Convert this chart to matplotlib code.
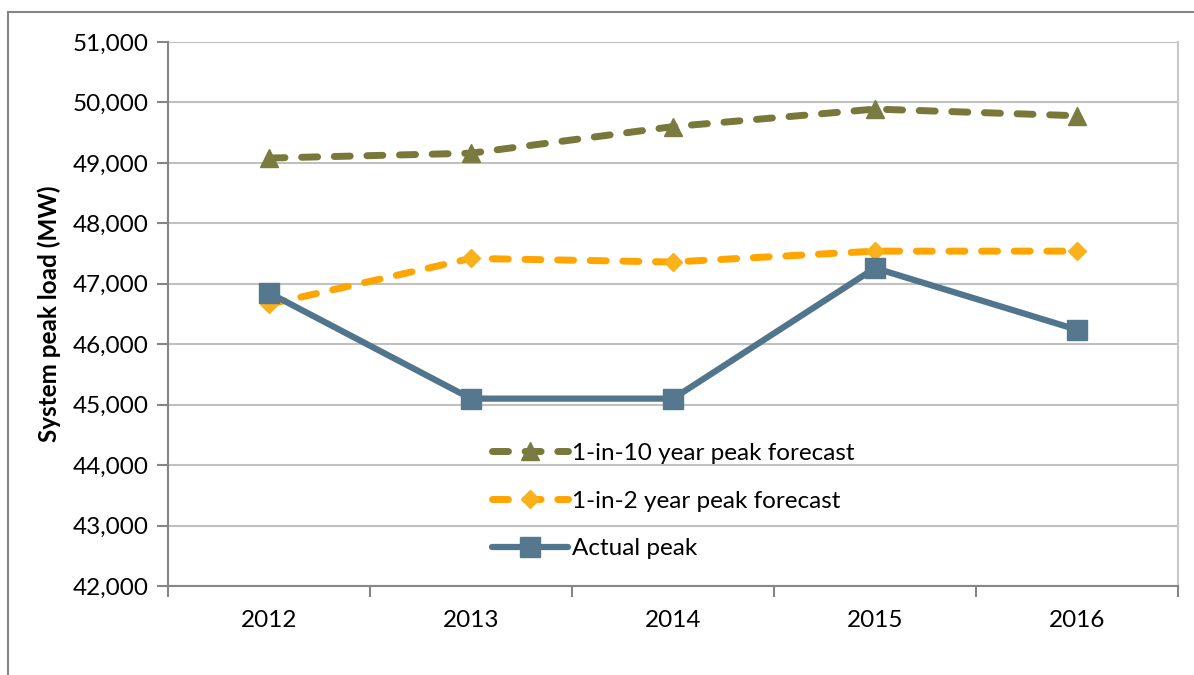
import matplotlib.pyplot as plt
from matplotlib.lines import Line2D
from matplotlib.ticker import FuncFormatter, MultipleLocator, FixedLocator

plt.rcParams['font.family'] = ['Lato', 'DejaVu Sans']

years = ['2012', '2013', '2014', '2015', '2016']
peak_1in10 = [49080, 49160, 49600, 49890, 49780]
peak_1in2 = [46660, 47420, 47360, 47540, 47540]
actual_peak = [46850, 45100, 45100, 47260, 46240]

olive = '#77783A'
orange = '#FFA500'
steel = '#50758C'
fs = 17.5

fig = plt.figure(figsize=(11.94, 6.75), dpi=100)
ax = fig.add_axes([168 / 1194, 1 - 586 / 675, (1178 - 168) / 1194, (586 - 42) / 675])

x = list(range(len(years)))

l10, = ax.plot(x, peak_1in10, color=olive, lw=5, dash_capstyle='round',
               marker='^', markersize=13, markerfacecolor='#7A7B40', markeredgecolor='#7A7B40',
               label='1-in-10 year peak forecast', zorder=3)
l10.set_dashes([2.3, 2.4])
l2, = ax.plot(x, peak_1in2, color=orange, lw=5, dash_capstyle='round',
              marker='D', markersize=9, markerfacecolor='#F9B11C', markeredgecolor='#F9B11C',
              label='1-in-2 year peak forecast', zorder=3)
l2.set_dashes([2.3, 2.4])
la, = ax.plot(x, actual_peak, color=steel, lw=4.5, solid_capstyle='round',
              marker='s', markersize=14, markerfacecolor='#55788F', markeredgecolor='#55788F',
              label='Actual peak', zorder=4)

ax.set_xlim(-0.5, len(years) - 0.5)
ax.set_ylim(42000, 51000)
ax.yaxis.set_major_locator(MultipleLocator(1000))
ax.yaxis.set_major_formatter(FuncFormatter(lambda v, p: f'{int(v):,}'))
ax.grid(axis='y', color='#C0C0C0', lw=1.5)
ax.set_axisbelow(True)

ax.set_xticks(x)
ax.set_xticklabels(years)
ax.xaxis.set_minor_locator(FixedLocator([i - 0.5 for i in range(len(years) + 1)]))
ax.tick_params(axis='x', which='major', length=0, pad=17, labelsize=fs)
ax.tick_params(axis='x', which='minor', length=8, width=1.5, color='#868686', direction='out')
ax.tick_params(axis='y', length=8, width=1.5, color='#868686', direction='out', pad=6, labelsize=fs)

ax.spines['top'].set_visible(False)
ax.spines['right'].set_color('#C8C8C8')
ax.spines['right'].set_linewidth(1.5)
for s in ['left', 'bottom']:
    ax.spines[s].set_color('#868686')
    ax.spines[s].set_linewidth(1.5)

ax.set_ylabel('System peak load (MW)', fontsize=fs, fontweight='bold', labelpad=8)

ax.legend(handles=[l10, l2, la], loc='upper left', bbox_to_anchor=(0.321, 0.263),
          frameon=False, fontsize=fs, handlelength=3.1, handletextpad=0.2,
          labelspacing=1.1, borderaxespad=0, borderpad=0)

# outer chart frame
fig.add_artist(Line2D([8 / 1194, 1.0], [1 - 12 / 675, 1 - 12 / 675], color='#868686', lw=1.5))
fig.add_artist(Line2D([8 / 1194, 8 / 1194], [0, 1 - 12 / 675], color='#868686', lw=1.5))

plt.savefig('out.png', dpi=100)
